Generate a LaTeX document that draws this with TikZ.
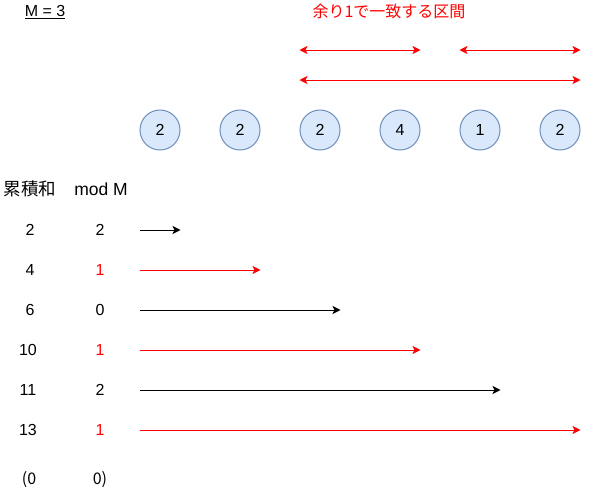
\documentclass[tikz,border=0pt]{standalone}
\usepackage{fontspec}
\setmainfont{Liberation Sans}
\newfontfamily\jpfont{Noto Sans CJK JP}
\usetikzlibrary{arrows.meta}
\definecolor{cellfill}{HTML}{DAE8FC}
\definecolor{cellline}{HTML}{6C8EBF}
\tikzset{
  txt/.style={inner sep=0pt, font=\fontsize{16}{19}\selectfont},
  hit/.style={txt, text=red},
  num/.style={txt, circle, draw=cellline, fill=cellfill, minimum size=40pt, line width=1pt},
  sumarrow/.style={-{Stealth[length=8pt,width=8pt,inset=2pt]}, line width=1pt},
  spanarrow/.style={{Stealth[length=8pt,width=8pt,inset=2pt]}-{Stealth[length=8pt,width=8pt,inset=2pt]}, red, line width=1pt}
}

\begin{document}
\begin{tikzpicture}[x=1pt, y=-1pt]
    \useasboundingbox (0, 0) rectangle (590, 491);

    % Draw the titles
    \node[txt] (modulus) at (45, 12) {\underline{M = 3}};
    \node[hit, font=\fontsize{16}{19}\jpfont] (title) at (389, 11) {余り1で一致する区間};

    % Draw the sequence
    \node[num] (c1) at (160, 130) {2};
    \node[num] (c2) at (240, 130) {2};
    \node[num] (c3) at (320, 130) {2};
    \node[num] (c4) at (400, 130) {4};
    \node[num] (c5) at (480, 130) {1};
    \node[num] (c6) at (560, 130) {2};

    % Draw the matching intervals
    \coordinate (lvl1) at (0, 50);
    \coordinate (lvl2) at (0, 80);
    \draw[spanarrow] (c3.west |- lvl1) -- (c4.east |- lvl1);
    \draw[spanarrow] (c5.west |- lvl1) -- (c6.east |- lvl1);
    \draw[spanarrow] (c3.west |- lvl2) -- (c6.east |- lvl2);

    % Draw the table
    \node[txt, font=\fontsize{17.5}{19}\jpfont] (sumhead) at (30, 189) {累積和};
    \node[txt, font=\fontsize{17.5}{19}\selectfont] (modhead) at (101, 189) {mod M};

    \node[txt] (s1) at (30, 230) {2};
    \node[txt] (m1) at (100, 230) {2};
    \coordinate (a1) at (140, 230);
    \draw[sumarrow] (a1) -- (a1 -| c1.east);

    \node[txt] (s2) at (30, 270) {4};
    \node[hit] (m2) at (100, 270) {1};
    \coordinate (a2) at (140, 270);
    \draw[sumarrow, red] (a2) -- (a2 -| c2.east);

    \node[txt] (s3) at (30, 310) {6};
    \node[txt] (m3) at (100, 310) {0};
    \coordinate (a3) at (140, 310);
    \draw[sumarrow] (a3) -- (a3 -| c3.east);

    \node[txt] (s4) at (28, 350) {10};
    \node[hit] (m4) at (100, 350) {1};
    \coordinate (a4) at (140, 350);
    \draw[sumarrow, red] (a4) -- (a4 -| c4.east);

    \node[txt] (s5) at (28, 390) {11};
    \node[txt] (m5) at (100, 390) {2};
    \coordinate (a5) at (140, 390);
    \draw[sumarrow] (a5) -- (a5 -| c5.east);

    \node[txt] (s6) at (28, 430) {13};
    \node[hit] (m6) at (100, 430) {1};
    \coordinate (a6) at (140, 430);
    \draw[sumarrow, red] (a6) -- (a6 -| c6.east);

    % Draw the start value
    \node[txt, font=\fontsize{16}{19}\jpfont] (s0) at (29, 480) {(0};
    \node[txt, font=\fontsize{16}{19}\jpfont] (m0) at (100, 480) {0)};

\end{tikzpicture}
\end{document}
